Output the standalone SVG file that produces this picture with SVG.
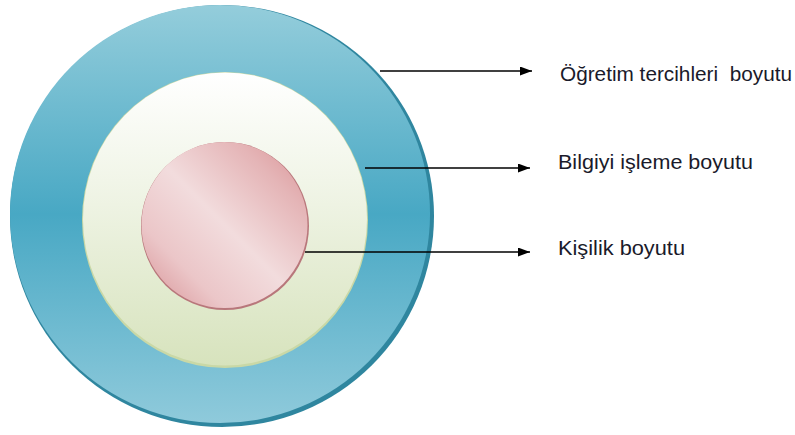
<svg xmlns="http://www.w3.org/2000/svg" width="795" height="435" viewBox="0 0 795 435">
<defs>
<linearGradient id="gOuter" x1="0" y1="0" x2="0" y2="1">
<stop offset="0" stop-color="#94cddb"/>
<stop offset="0.5" stop-color="#48a8c4"/>
<stop offset="1" stop-color="#8fcadb"/>
</linearGradient>
<linearGradient id="gMid" x1="0" y1="0" x2="0" y2="1">
<stop offset="0" stop-color="#ffffff"/>
<stop offset="0.45" stop-color="#eef3e3"/>
<stop offset="1" stop-color="#d7e3bd"/>
</linearGradient>
<linearGradient id="gIn" x1="1" y1="0" x2="0" y2="1">
<stop offset="0" stop-color="#d98e92"/>
<stop offset="0.2" stop-color="#e4b3b5"/>
<stop offset="0.5" stop-color="#f2dcdd"/>
<stop offset="0.75" stop-color="#ebc6c8"/>
<stop offset="1" stop-color="#d68d91"/>
</linearGradient>
<marker id="arr" viewBox="0 0 12 9" refX="12" refY="4.5" markerWidth="12" markerHeight="9" markerUnits="userSpaceOnUse" orient="auto">
<path d="M0,0 L12,4.5 L0,9 z" fill="#000"/>
</marker>
<style>
.lbl{font-family:"Liberation Sans",Arial,sans-serif;font-size:21px;fill:#1a1a2a;white-space:pre}
.con{stroke:#000;stroke-width:1.5;fill:none}
</style>
</defs>
<g id="outer">
<ellipse cx="222" cy="216" rx="212" ry="211" fill="#2f869f"/>
<ellipse cx="220" cy="214" rx="210" ry="209" fill="url(#gOuter)"/>
</g>
<g id="middle">
<ellipse cx="225" cy="220" rx="143" ry="148" fill="#c9d8a6"/>
<ellipse cx="225" cy="219" rx="142" ry="146.5" fill="url(#gMid)"/>
</g>
<g id="inner">
<circle cx="225" cy="226" r="84" fill="#b8777b"/>
<circle cx="224.5" cy="225" r="83" fill="url(#gIn)"/>
</g>
<g id="connectors">
<line class="con" x1="380" y1="71" x2="532" y2="71" marker-end="url(#arr)"/>
<line class="con" x1="365" y1="168" x2="530" y2="168" marker-end="url(#arr)"/>
<line class="con" x1="305" y1="252" x2="530" y2="252" marker-end="url(#arr)"/>
</g>
<g id="labels">
<text class="lbl" x="560" y="81" xml:space="preserve" textLength="232" lengthAdjust="spacingAndGlyphs">Öğretim tercihleri  boyutu</text>
<text class="lbl" x="558" y="169" textLength="195" lengthAdjust="spacingAndGlyphs">Bilgiyi işleme boyutu</text>
<text class="lbl" x="558" y="255" textLength="127" lengthAdjust="spacingAndGlyphs">Kişilik boyutu</text>
</g>
</svg>
